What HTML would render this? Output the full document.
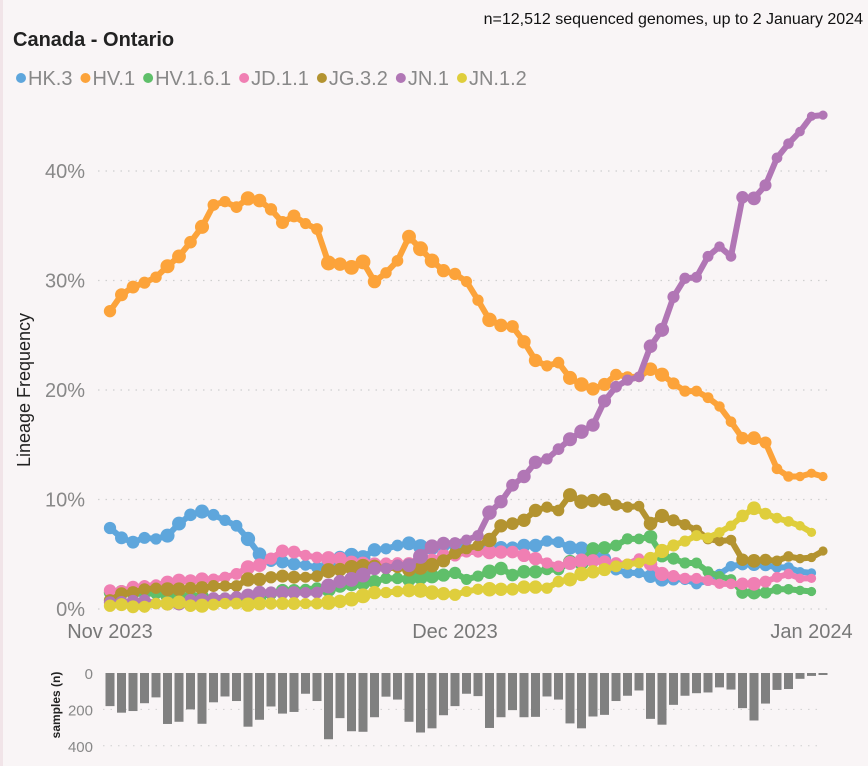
<!DOCTYPE html>
<html><head><meta charset="utf-8">
<style>
html,body{margin:0;padding:0;}
body{width:868px;height:766px;background:#f9f5f6;font-family:"Liberation Sans",sans-serif;overflow:hidden;position:relative;border-left:3px solid #f1e4e8;box-sizing:border-box;}
svg{position:absolute;left:0;top:0;}
</style></head>
<body>
<svg id="chart" width="868" height="766">
  <text x="860" y="24" text-anchor="end" font-size="16" fill="#111">n=12,512 sequenced genomes, up to 2 January 2024</text>
  <text x="10" y="46" font-size="20" font-weight="bold" fill="#222">Canada - Ontario</text>
  <g id="legend"></g>
  <g id="grid"></g>
  <text transform="translate(27,390) rotate(-90)" text-anchor="middle" font-size="18" fill="#222">Lineage Frequency</text>
  <g id="series"></g>
  <g id="bars"></g>
  <text transform="translate(57,705) rotate(-90)" text-anchor="middle" font-size="12" font-weight="bold" fill="#222">samples (n)</text>
</svg>
<script>
const NS='http://www.w3.org/2000/svg';
const names=['HK.3','HV.1','HV.1.6.1','JD.1.1','JG.3.2','JN.1','JN.1.2'];
const colors=['#5ea6dc','#fca33a','#5fbf6a','#f07fb3','#b39330','#b176b5','#dfce3c'];
const yTicks=[0,10,20,30,40];
const xTickLabels=['Nov 2023','Dec 2023','Jan 2024'];
const xTickDays=[0,30,61];
const hk3=[7.4,6.5,6.1,6.5,6.4,6.7,7.8,8.6,8.9,8.6,8.1,7.6,6.4,5.0,4.4,4.3,4.1,4.0,3.8,4.0,4.7,4.9,4.7,5.4,5.5,5.8,6.0,5.7,5.6,5.8,5.8,5.6,5.6,5.7,5.6,5.6,5.8,5.8,6.2,6.1,5.6,5.5,5.2,4.6,3.6,3.3,3.3,3.0,2.7,2.7,2.7,2.3,2.6,3.2,3.9,4.1,4.1,4.0,3.8,3.8,3.4,3.3,null];
const hv1=[27.2,28.7,29.4,29.8,30.3,31.3,32.2,33.5,34.9,36.9,37.2,36.7,37.5,37.3,36.5,35.3,35.9,35.2,34.7,31.6,31.5,31.2,31.7,29.9,30.7,31.8,34.0,32.9,31.8,30.9,30.6,29.9,28.2,26.4,25.9,25.8,24.4,22.7,22.2,22.5,21.1,20.5,20.1,20.5,21.4,21.2,21.2,21.9,21.4,20.6,19.9,19.9,19.3,18.5,17.1,15.6,15.6,15.2,12.8,12.1,12.1,12.4,12.1];
const hv161=[1.5,1.6,1.4,1.4,1.4,1.2,1.1,1.2,1.1,0.8,1.0,0.6,0.9,1.1,1.4,1.7,1.7,1.8,1.9,1.8,2.1,2.3,2.4,2.5,2.8,2.8,2.7,2.9,3.0,3.1,3.3,2.7,3.0,3.4,3.7,3.1,3.4,3.4,3.6,3.6,4.3,4.2,5.5,5.6,5.8,6.4,6.4,6.6,4.9,4.6,4.2,4.2,3.4,3.0,2.7,1.5,1.5,1.5,1.8,1.8,1.7,1.6,null];
const jd11=[1.7,1.6,2.0,2.1,2.2,2.4,2.6,2.6,2.7,2.7,2.9,3.2,3.8,4.0,4.6,5.3,5.2,4.9,4.7,4.6,4.6,4.2,4.1,4.1,4.2,4.2,4.1,4.3,4.4,4.9,4.9,5.2,5.2,5.2,5.2,5.2,4.9,4.6,4.2,3.9,4.2,4.4,4.4,4.3,4.2,4.1,4.6,4.1,3.2,3.0,2.8,2.8,2.6,2.3,2.3,2.3,2.3,2.5,2.9,3.2,2.8,2.8,null];
const jg32=[0.8,1.4,1.5,1.8,1.9,1.8,1.8,1.9,1.9,2.1,2.1,2.1,2.7,2.7,2.9,3.0,2.9,2.9,3.0,3.5,3.6,3.8,3.9,3.9,3.7,3.8,3.6,3.8,4.0,4.4,5.1,5.5,5.8,6.3,7.6,7.8,8.1,9.0,9.3,9.0,10.4,9.8,9.9,10.0,9.5,9.3,9.4,7.8,8.5,8.1,7.7,7.2,6.4,6.2,6.3,4.5,4.4,4.5,4.4,4.8,4.6,4.7,5.3];
const jn1=[0.6,0.6,0.7,0.8,0.5,0.5,0.5,0.8,0.8,1.0,1.0,1.1,1.2,1.5,1.5,1.5,1.5,1.5,1.5,2.1,2.5,2.7,3.1,3.7,3.7,4.0,4.0,4.8,5.7,6.0,6.0,6.3,6.7,8.8,9.8,11.3,12.1,13.4,13.7,14.6,15.5,16.2,16.8,19.0,20.3,20.9,21.2,24.0,25.5,28.5,30.2,30.3,32.2,33.1,32.2,37.6,37.5,38.7,41.2,42.5,43.6,45.0,45.1];
const jn12=[0.3,0.4,0.2,0.2,0.5,0.5,0.6,0.3,0.3,0.4,0.5,0.5,0.4,0.5,0.5,0.5,0.5,0.5,0.5,0.6,0.7,0.9,1.2,1.5,1.5,1.6,1.7,1.7,1.5,1.4,1.3,1.6,1.8,1.8,1.8,1.8,2.0,2.0,1.9,2.5,2.7,3.2,3.4,3.6,3.9,4.1,4.2,4.6,5.3,5.8,6.2,6.7,6.5,7.0,7.6,8.5,9.2,8.7,8.3,8.0,7.6,7.0,null];
const samples=[182,218,209,166,134,280,268,200,279,161,129,154,295,257,184,223,214,114,154,364,248,320,323,243,130,146,268,327,304,232,182,114,127,302,243,204,243,241,129,146,277,304,239,230,154,125,96,252,284,175,125,111,107,79,91,193,261,168,93,88,32,16,11];
const seriesData=[hk3,hv1,hv161,jd11,jg32,jn1,jn12];
const sampleTicks=[0,200,400];

const X0=107,DX=11.5;
const x=d=>X0+d*DX;
const y=p=>609-p*10.95;
const yb=n=>673+n*0.182;
function mk(t,a,p){const e=document.createElementNS(NS,t);for(const k in a)e.setAttribute(k,a[k]);if(p)p.appendChild(e);return e;}
const grid=document.getElementById('grid');
yTicks.forEach(t=>{
  const l=mk('line',{x1:95,x2:828,y1:y(t),y2:y(t),stroke:'#cfcfcf','stroke-width':1.3,'stroke-dasharray':'1.5 6'},grid);
  
  
  const tx=mk('text',{x:82,y:y(t)+7,'text-anchor':'end','font-size':20,fill:'#888'},grid);
  tx.textContent=t+'%';
  
  
});
xTickLabels.forEach((lab,i)=>{
  const tx=mk('text',{x:x(xTickDays[i]),y:638,'text-anchor':'middle','font-size':20,fill:'#777'},grid);
  tx.textContent=lab;
  
  
});
const leg=document.getElementById('legend');
let lx=18;
names.forEach((n,i)=>{
  const g=mk('g',{},leg);
  
  
  mk('circle',{cx:lx,cy:78,r:5,fill:colors[i]},g);
  const t=mk('text',{x:lx+7,y:85,'font-size':20,fill:'#888'},g);
  t.textContent=n;
  lx+= t.getComputedTextLength()+20;
});
const sg=document.getElementById('series');
seriesData.forEach((arr,si)=>{
  const g=mk('g',{},sg);
  
  
  let d='';
  arr.forEach((v,i)=>{if(v==null)return;d+=(d?'L':'M')+x(i)+','+y(v);});
  mk('path',{d:d,fill:'none',stroke:colors[si],'stroke-width':6,'stroke-linejoin':'round','stroke-linecap':'round'},g);
  arr.forEach((v,i)=>{
    if(v==null)return;
    const r=Math.max(3.5,Math.min(7.5,4.5+samples[i]/110));
    const c=mk('circle',{cx:x(i),cy:y(v),r:r,fill:colors[si]},g);
    
    
  });
});
const bg=document.getElementById('bars');
sampleTicks.forEach(t=>{
  if(t>0){const l=mk('line',{x1:100,x2:820,y1:yb(t),y2:yb(t),stroke:'#cfcfcf','stroke-dasharray':'1.5 6'},bg);
  
  }
  const tx=mk('text',{x:90,y:yb(t)+6,'text-anchor':'end','font-size':15,fill:'#888'},bg);
  tx.textContent=t;
  
  
});
samples.forEach((n,i)=>{
  const b=mk('rect',{x:x(i)-4.5,y:yb(0),width:9,height:yb(n)-yb(0),fill:'#808080'},bg);
  
  
});
</script>
</body></html>
